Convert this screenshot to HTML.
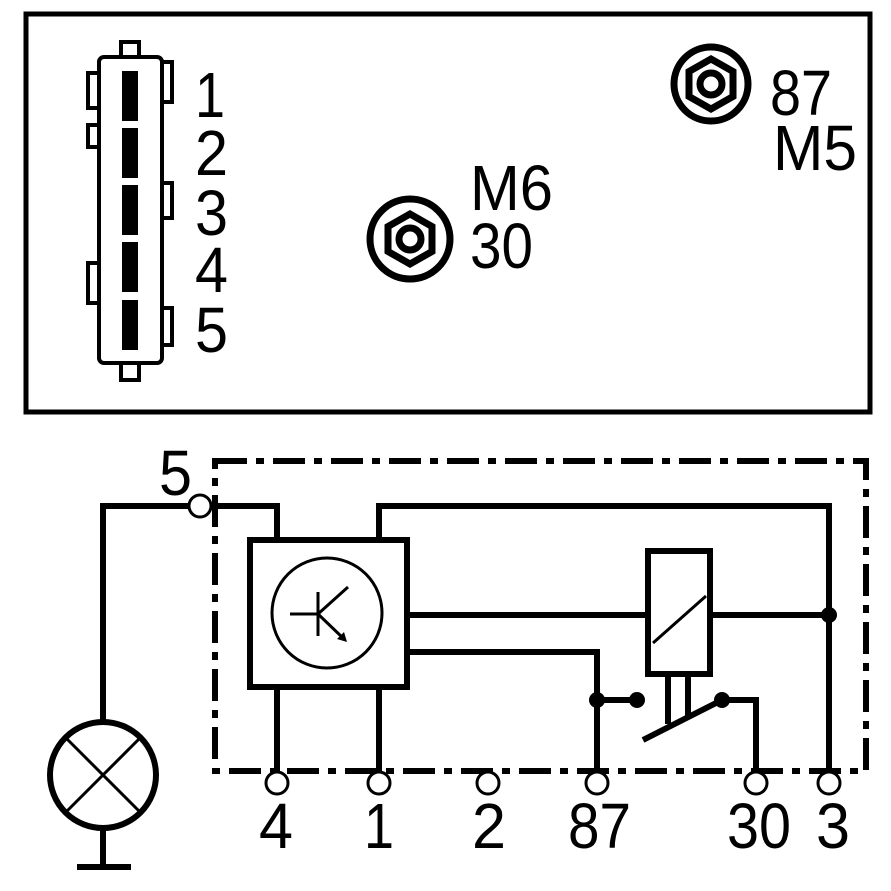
<!DOCTYPE html>
<html><head><style>html,body{margin:0;padding:0;background:#fff}svg{display:block}</style></head>
<body>
<svg width="891" height="891" viewBox="0 0 891 891" xmlns="http://www.w3.org/2000/svg" font-family="Liberation Sans, Arial, sans-serif">
<rect width="891" height="891" fill="#fff"/>
<rect x="26" y="14" width="844" height="398" fill="none" stroke="#000" stroke-width="5"/>
<g fill="#fff" stroke="#000" stroke-width="4">
<rect x="121" y="42" width="18" height="16"/>
<rect x="121" y="362" width="18" height="18"/>
<rect x="162" y="62" width="10" height="40"/>
<rect x="88" y="73" width="11" height="35"/>
<rect x="88" y="125" width="11" height="22"/>
<rect x="162" y="183" width="10" height="35"/>
<rect x="88" y="263" width="11" height="40"/>
<rect x="162" y="308" width="10" height="37"/>
<rect x="99" y="57" width="63" height="306" rx="5"/>
</g>
<g fill="#000">
<rect x="122" y="71" width="16" height="50"/>
<rect x="122" y="128" width="16" height="50"/>
<rect x="122" y="185" width="16" height="50"/>
<rect x="122" y="242" width="16" height="50"/>
<rect x="122" y="300" width="16" height="50"/>
</g>
<g font-size="64" fill="#000" lengthAdjust="spacingAndGlyphs">
<text x="195" y="117" textLength="30" lengthAdjust="spacingAndGlyphs">1</text>
<text x="195" y="175" textLength="33" lengthAdjust="spacingAndGlyphs">2</text>
<text x="195" y="235" textLength="33" lengthAdjust="spacingAndGlyphs">3</text>
<text x="195" y="292" textLength="33" lengthAdjust="spacingAndGlyphs">4</text>
<text x="195" y="352" textLength="33" lengthAdjust="spacingAndGlyphs">5</text>
<text x="470" y="210" textLength="83" lengthAdjust="spacingAndGlyphs">M6</text>
<text x="470" y="268" textLength="63" lengthAdjust="spacingAndGlyphs">30</text>
<text x="770" y="115" textLength="62" lengthAdjust="spacingAndGlyphs">87</text>
<text x="773" y="170" textLength="84" lengthAdjust="spacingAndGlyphs">M5</text>
</g>
<g fill="none" stroke="#000" stroke-width="7">
<circle cx="410" cy="239" r="40"/>
<polygon points="410,214 432,226.5 432,251.5 410,264 388,251.5 388,226.5"/>
<circle cx="410" cy="239" r="11"/>
<circle cx="711" cy="84" r="37"/>
<polygon points="711,59 733,71.5 733,96.5 711,109 689,96.5 689,71.5"/>
<circle cx="711" cy="84" r="11"/>
</g>
<rect x="215" y="461" width="651" height="310" fill="none" stroke="#000" stroke-width="6" stroke-dasharray="32 9 8 9"/>
<g fill="none" stroke="#000" stroke-width="6">
<polyline points="103,720 103,506 190,506"/>
<polyline points="210,506 277,506 277,539"/>
<polyline points="379,539 379,506 829,506 829,771"/>
<rect x="250" y="540" width="157" height="147"/>
<line x1="277" y1="687" x2="277" y2="771"/>
<line x1="379" y1="687" x2="379" y2="771"/>
<line x1="407" y1="615" x2="647" y2="615"/>
<line x1="710" y1="615" x2="829" y2="615"/>
<polyline points="407,652 597,652 597,771"/>
<line x1="597" y1="700" x2="636" y2="700"/>
<rect x="648" y="551" width="62" height="123"/>
<line x1="668" y1="674" x2="668" y2="724"/>
<line x1="688" y1="674" x2="688" y2="716"/>
<line x1="643" y1="740" x2="720" y2="701"/>
<polyline points="722,700 756,700 756,771"/>
<circle cx="103" cy="775" r="53" stroke-width="6"/>
<line x1="103" y1="828" x2="103" y2="866"/>
<line x1="77" y1="867" x2="131" y2="867"/>
</g>
<g stroke="#000" stroke-width="3" fill="none">
<line x1="66" y1="738" x2="140" y2="812"/>
<line x1="140" y1="738" x2="66" y2="812"/>
<line x1="653" y1="643" x2="706" y2="596"/>
<circle cx="327" cy="613" r="55"/>
<line x1="290" y1="614" x2="318" y2="614"/>
<line x1="318" y1="592" x2="318" y2="636"/>
<line x1="318" y1="614" x2="348" y2="587"/>
<line x1="318" y1="614" x2="344" y2="639"/>
</g>
<polygon points="347,642 337,639 344,632" fill="#000"/>
<g fill="#000">
<circle cx="829" cy="615" r="8"/>
<circle cx="597" cy="700" r="8"/>
<circle cx="637" cy="700" r="8"/>
<circle cx="722" cy="700" r="8"/>
</g>
<g fill="#fff" stroke="#000" stroke-width="3">
<circle cx="200" cy="506" r="11"/>
<circle cx="277" cy="783" r="11"/>
<circle cx="379" cy="783" r="11"/>
<circle cx="488" cy="783" r="11"/>
<circle cx="597" cy="783" r="11"/>
<circle cx="756" cy="783" r="11"/>
<circle cx="829" cy="783" r="11"/>
</g>
<g font-size="64" fill="#000">
<text x="159" y="495" textLength="33" lengthAdjust="spacingAndGlyphs">5</text>
<text x="259" y="848" textLength="34" lengthAdjust="spacingAndGlyphs">4</text>
<text x="364" y="848" textLength="30" lengthAdjust="spacingAndGlyphs">1</text>
<text x="472" y="848" textLength="34" lengthAdjust="spacingAndGlyphs">2</text>
<text x="568" y="848" textLength="63" lengthAdjust="spacingAndGlyphs">87</text>
<text x="727" y="848" textLength="64" lengthAdjust="spacingAndGlyphs">30</text>
<text x="816" y="848" textLength="34" lengthAdjust="spacingAndGlyphs">3</text>
</g>
</svg>
</body></html>
